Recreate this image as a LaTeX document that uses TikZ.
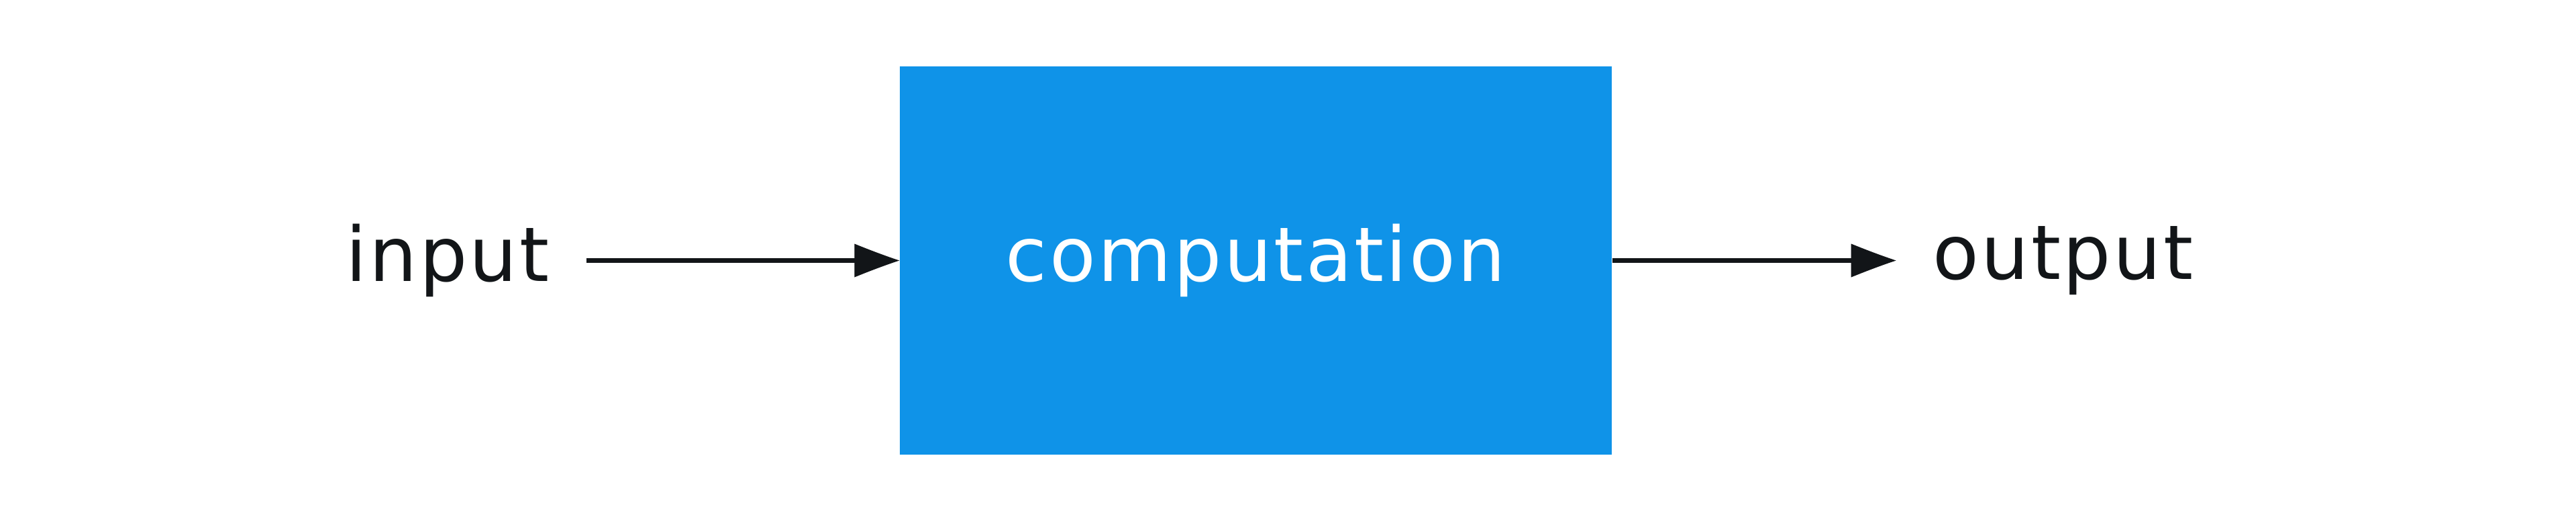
\documentclass[tikz,border=0pt]{standalone}
\usepackage{fontspec}
\setmainfont{DejaVu Sans}[LetterSpace=3.0]
\usetikzlibrary{arrows.meta,positioning}
\definecolor{boxblue}{HTML}{0F93E8}
\definecolor{ink}{HTML}{121518}
% arrow head with inward curved sides
\pgfdeclarearrow{
  name = Flare,
  parameters = {\the\pgfarrowlength,\the\pgfarrowwidth},
  defaults = {length = 6.7mm, width = 5mm},
  setup code = {
    \pgfarrowssettipend{0pt}
    \pgfarrowssetlineend{-.5\pgfarrowlength}
    \pgfarrowssetbackend{-\pgfarrowlength}
    \pgfarrowssetvisualbackend{-\pgfarrowlength}
    \pgfarrowshullpoint{0pt}{0pt}
    \pgfarrowshullpoint{-\pgfarrowlength}{.5\pgfarrowwidth}
    \pgfarrowshullpoint{-\pgfarrowlength}{-.5\pgfarrowwidth}
  },
  drawing code = {
    \pgfpathmoveto{\pgfqpoint{0pt}{0pt}}
    \pgfpathquadraticcurveto{\pgfqpoint{-.45\pgfarrowlength}{.2\pgfarrowwidth}}{\pgfqpoint{-\pgfarrowlength}{.5\pgfarrowwidth}}
    \pgfpathlineto{\pgfqpoint{-\pgfarrowlength}{-.5\pgfarrowwidth}}
    \pgfpathquadraticcurveto{\pgfqpoint{-.45\pgfarrowlength}{-.2\pgfarrowwidth}}{\pgfqpoint{0pt}{0pt}}
    \pgfpathclose
    \pgfusepathqfill
  }
}
\begin{document}
\begin{tikzpicture}[
  flow/.style={draw=ink,line width=2pt,-{Flare[length=6.7mm,width=5mm]}},
  word/.style={text=ink,font=\fontsize{32}{38}\selectfont,inner sep=0pt}]
\useasboundingbox (0,0) rectangle (38.39,7.70);
\node[fill=boxblue,text=white,font=\fontsize{32}{38}\selectfont,
  minimum width=10.61cm,minimum height=5.79cm,inner sep=0pt] (comp) at (18.715,3.815) {computation};
\node[word,left=5.21cm of comp] (in) {input};
\node[word,right=4.77cm of comp] (out) {output};
\draw[flow] ([xshift=5.5mm]in.east) -- (comp.west);
\draw[flow] (comp.east) -- ([xshift=-5.4mm]out.west);
\end{tikzpicture}
\end{document}
